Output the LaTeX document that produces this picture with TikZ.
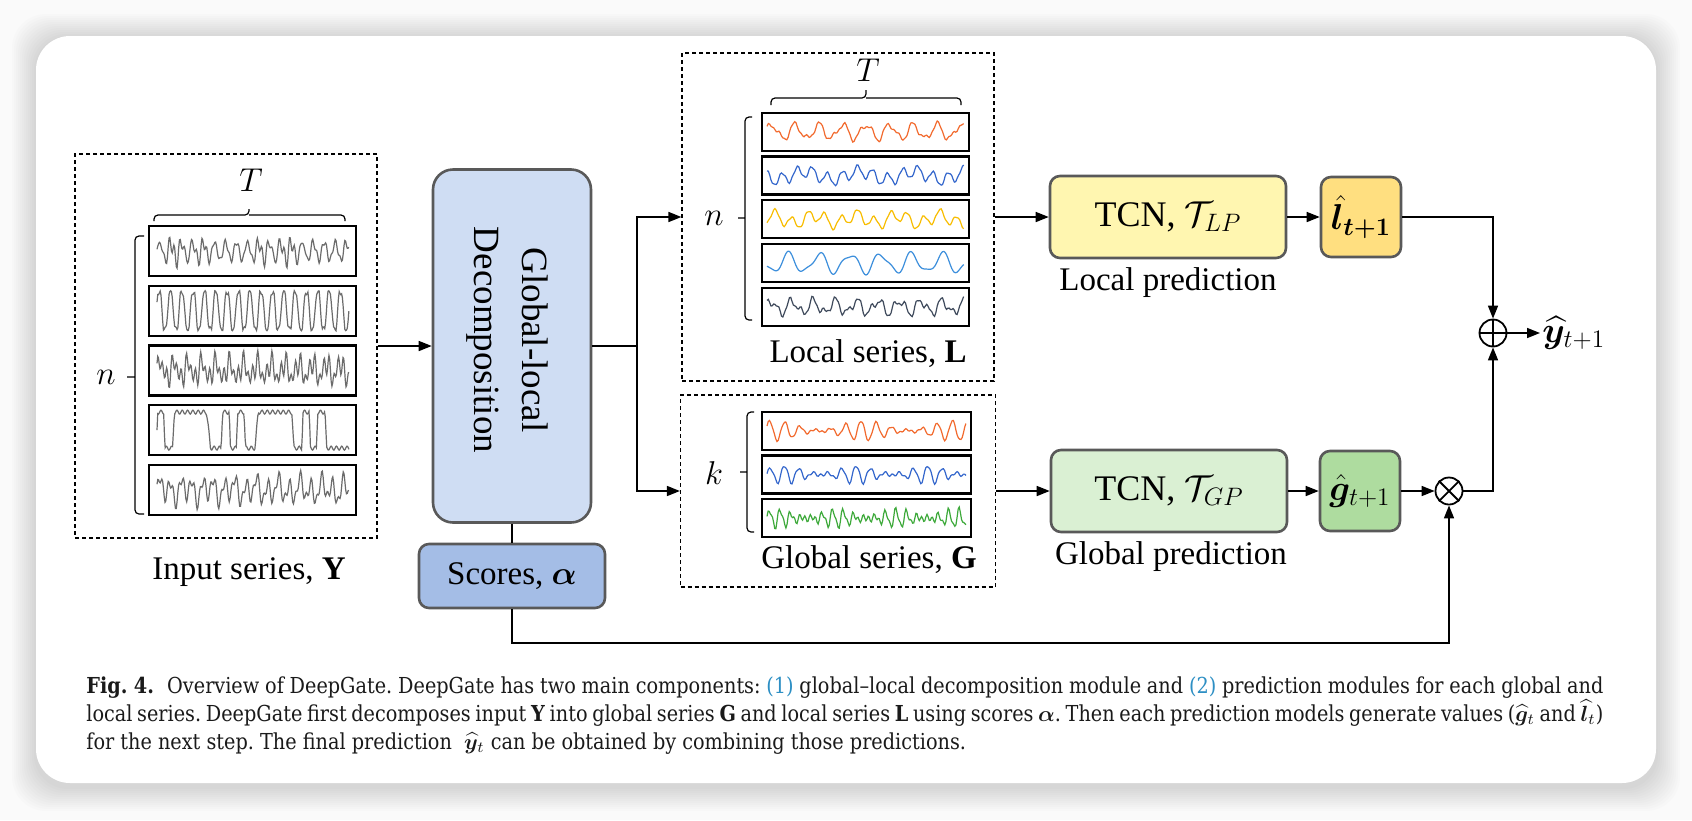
\documentclass[tikz,border=0pt]{standalone}
\usepackage{fix-cm}
\usepackage{xcolor}
\usepackage{amsmath}
\usepackage{amssymb}
\usepackage{fontspec}
\setmainfont{Liberation Serif}
\newfontfamily\capfont[FakeStretch=0.875,Ligatures=TeX]{DejaVu Serif}
\usepackage{bm}
\usepackage{tikz}
\usetikzlibrary{arrows.meta}

\definecolor{decfill}{HTML}{CFDDF3}
\definecolor{scorefill}{HTML}{A4BDE6}
\definecolor{lpfill}{HTML}{FFF6B0}
\definecolor{lhatfill}{HTML}{FFDF80}
\definecolor{gpfill}{HTML}{DAF0D3}
\definecolor{ghatfill}{HTML}{AEDC9F}
\definecolor{edge}{HTML}{595959}
\definecolor{sergray}{HTML}{6B6B6B}
\definecolor{serorange}{HTML}{F26A2E}
\definecolor{serblue}{HTML}{3366CC}
\definecolor{seryellow}{HTML}{F8BD00}
\definecolor{serlblue}{HTML}{3D8FDC}
\definecolor{serslate}{HTML}{3F4A5C}
\definecolor{sergreen}{HTML}{3DA93A}
\definecolor{capblue}{HTML}{2D8FC4}
\definecolor{capblack}{HTML}{1A1A1A}

\begin{document}
\begin{tikzpicture}[x=0.5pt,y=-0.5pt,
	lbl/.style={font=\fontsize{16.5}{20}\selectfont},
	dashbox/.style={draw, dash pattern=on 2pt off 1.5pt, line width=0.6pt},
	serbox/.style={draw, line width=1.1pt},
	blk/.style={draw=edge, line width=1.3pt, rounded corners=5pt},
	opcirc/.style={circle, draw, line width=0.9pt, minimum size=13.5pt, inner sep=0pt},
	wire/.style={line width=0.8pt},
	conn/.style={line width=0.8pt, -{Triangle[length=6.5pt,width=5pt]}},
	brc/.style={line width=0.6pt, rounded corners=2pt},
	wave/.style={line width=0.6pt}]
	\useasboundingbox (0,0) rectangle (1692,820);
	\fill[white!98!black] (0,0) rectangle (1692,820);
	\foreach \k in {1,...,12}
		\fill[black, opacity=0.012, rounded corners=17pt] ({36-2*\k},{38-2*\k}) rectangle ({1656+2*\k},{787+2*\k});
	\fill[white, rounded corners=17pt] (36,36) rectangle (1656,783);

	% input series
	\node (inbox) [dashbox, minimum width=151pt, minimum height=192pt] at (226,346) {};
	\foreach \i in {0,...,4}
		\draw[serbox] (149,{226+59.7*\i}) rectangle (356,{276+59.7*\i});
	\draw[wave, sergray] plot[domain=0:1, samples=240] ({157+192*\x},{251-9*sin(6300*\x)-7*sin(12600*\x+30)*(0.5+0.5*sin(700*\x))+3*sin(15000*\x)});
	\draw[wave, sergray] plot[domain=0:1, samples=240] ({157+192*\x},{310.7-18*max(-1,min(1,1.4*sin(6100*\x+20)))+2*sin(14000*\x)});
	\draw[wave, sergray] plot[domain=0:1, samples=260] ({157+192*\x},{370.4-8*sin(5000*\x)-8*sin(14500*\x+50)-5*sin(9700*\x+10)});
	\draw[wave, sergray] plot[domain=0:1, samples=260] ({157+192*\x},{430.1-18*max(-1,min(1,4*sin(2500*\x+150*sin(900*\x))))+2*sin(13000*\x)});
	\draw[wave, sergray] plot[domain=0:1, samples=240] ({157+192*\x},{489.8-10*sin(6400*\x)-6*sin(13000*\x+70)-4*sin(3000*\x)});
	\draw[brc] (154,221) |- (249,215) -- (249,209) (249,215) -| (345,221);
	\draw[brc] (144,236) -| (135,514) -- (144,514) (135,377) -- (127,377);
	\node (inT) [lbl] at (251,180) {$T$};
	\node (inn) [lbl] at (106,377) {$n$};
	\node (inlab) [lbl] at (249,572) {Input series, \textbf{Y}};

	% decomposition
	\node (decomp) [blk, fill=decfill, rounded corners=10pt, minimum width=79pt, minimum height=176.5pt] at (512,346) {};
	\node (declab) [rotate=-90, align=center, font=\fontsize{18.5}{24}\selectfont] at (507,340) {Global-local\\Decomposition};
	\node (scores) [blk, fill=scorefill, minimum width=93pt, minimum height=32pt, lbl] at (512,576) {Scores, $\bm{\alpha}$};

	% local series
	\node (lsbox) [dashbox, minimum width=156pt, minimum height=164pt] at (838,217) {};
	\foreach \i in {0,...,4}
		\draw[serbox] (762,{112.7+43.8*\i}) rectangle (969,{150.7+43.8*\i});
	\draw[wave, serorange] plot[domain=0:1, samples=150] ({767+197*\x},{131.7-7*sin(3000*\x+20)-3*sin(5400*\x+80)-1*sin(13000*\x)});
	\draw[wave, serblue] plot[domain=0:1, samples=150] ({767+197*\x},{175.5-6*sin(4700*\x+90)-4*sin(1300*\x+200)-1.2*sin(12000*\x)});
	\draw[wave, seryellow] plot[domain=0:1, samples=150] ({767+197*\x},{219.3-6*sin(4300*\x+270)-4*sin(1700*\x+40)-1*sin(11500*\x)});
	\draw[wave, serlblue] plot[domain=0:1, samples=150] ({767+197*\x},{263.1-9*sin(2300*\x+200)-3*sin(4100*\x)});
	\draw[wave, serslate] plot[domain=0:1, samples=150] ({767+197*\x},{306.9-6*sin(3300*\x+30)-4*sin(6100*\x+120)-1.5*sin(13000*\x)});
	\draw[brc] (771,105) |- (866,98) -- (866,90) (866,98) -| (961,105);
	\draw[brc] (752,117) -| (745,320) -- (752,320) (745,218) -- (738,218);
	\node (lsT) [lbl] at (868,70) {$T$};
	\node (lsn) [lbl] at (714,218) {$n$};
	\node (lslab) [lbl] at (868,354) {Local series, \textbf{L}};

	% global series
	\node (gsbox) [dashbox, minimum width=157.5pt, minimum height=96pt] at (838,491) {};
	\foreach \i in {0,...,2}
		\draw[serbox] (762,{411.7+43.8*\i}) rectangle (971,{449.7+43.8*\i});
	\draw[wave, serorange] plot[domain=0:1, samples=160] ({767+199*\x},{430.7-10*sin(4700*\x+30)*(0.55+0.45*sin(800*\x+60))-1*sin(12000*\x)});
	\draw[wave, serblue] plot[domain=0:1, samples=160] ({767+199*\x},{474.5-9*sin(5000*\x+10)*(0.55+0.45*sin(1000*\x))-1.5*sin(11000*\x)});
	\draw[wave, sergreen] plot[domain=0:1, samples=180] ({767+199*\x},{518.3-9*sin(6800*\x)*(0.55+0.45*sin(1200*\x+30))-3*sin(13500*\x+40)});
	\draw[brc] (754,412) -| (747,532) -- (754,532) (747,472) -- (740,472);
	\node (gsk) [lbl] at (714,473) {$k$};
	\node (gslab) [lbl] at (869,560) {Global series, \textbf{G}};

	% prediction
	\node (tcnl) [blk, fill=lpfill, minimum width=118pt, minimum height=41pt, font=\fontsize{18}{20}\selectfont] at (1168,217) {TCN, $\mathcal{T}_{LP}$};
	\node (tcng) [blk, fill=gpfill, minimum width=118pt, minimum height=41pt, font=\fontsize{18}{20}\selectfont] at (1169,491) {TCN, $\mathcal{T}_{GP}$};
	\node (lplab) [lbl] at (1168,283) {Local prediction};
	\node (gplab) [lbl] at (1171,557) {Global prediction};
	\node (lhat) [blk, fill=lhatfill, minimum size=40pt, inner sep=0pt, font=\fontsize{18}{20}\selectfont] at (1361,217) {$\bm{\hat{l}_{t+1}}$};
	\node (ghat) [blk, fill=ghatfill, minimum size=40pt, inner sep=0pt, font=\fontsize{18}{20}\selectfont] at (1360,491) {$\hat{\bm{g}}_{t+1}$};
	\node (add) [opcirc] at (1493,333) {};
	\draw[line width=0.9pt] (add.north) -- (add.south) (add.west) -- (add.east);
	\node (mul) [opcirc] at (1449,491) {};
	\draw[line width=0.9pt] (mul.north west) -- (mul.south east) (mul.north east) -- (mul.south west);
	\node (yout) [anchor=west, inner sep=1pt, font=\fontsize{18}{20}\selectfont] at (1540,333) {$\widehat{\bm{y}}_{t+1}$};

	\coordinate (split) at (637,346);
	\coordinate (fb) at (1449,643);
	\draw[conn] (inbox.east) -- (decomp.west);
	\draw[wire] (decomp.east) -- (split);
	\draw[conn] (split) |- (lsbox.west);
	\draw[conn] (split) |- (gsbox.west);
	\draw[conn] (lsbox.east) -- (tcnl.west);
	\draw[conn] (gsbox.east) -- (tcng.west);
	\draw[conn] (tcnl.east) -- (lhat.west);
	\draw[conn] (tcng.east) -- (ghat.west);
	\draw[conn] (ghat.east) -- (mul.west);
	\draw[conn] (lhat.east) -| (add.north);
	\draw[conn] (mul.east) -| (add.south);
	\draw[conn] (add.east) -- (yout.west);
	\draw[wire] (decomp.south) -- (scores.north);
	\draw[conn] (scores.south) |- (fb) -- (mul.south);

	% caption
	\node (caption) [anchor=north west, inner sep=0pt, text width=758.5pt, align=justify, text=capblack, font=\capfont\fontsize{11}{14}\selectfont\frenchspacing] at (86,676) {\textbf{Fig.~4.}\hspace{0.6em}Overview of DeepGate. DeepGate has two main components: \textcolor{capblue}{(1)} global–local decomposition module and \textcolor{capblue}{(2)} prediction modules for each global and\linebreak local series. DeepGate first decomposes input \textbf{Y} into global series \textbf{G} and local series \textbf{L} using scores $\bm{\alpha}$. Then each prediction models generate values ($\widehat{\bm{g}}_t$ and $\widehat{\bm{l}}_t$)\linebreak for the next step. The final prediction~ $\widehat{\bm{y}}_t$ can be obtained by combining those predictions.};
\end{tikzpicture}
\end{document}
